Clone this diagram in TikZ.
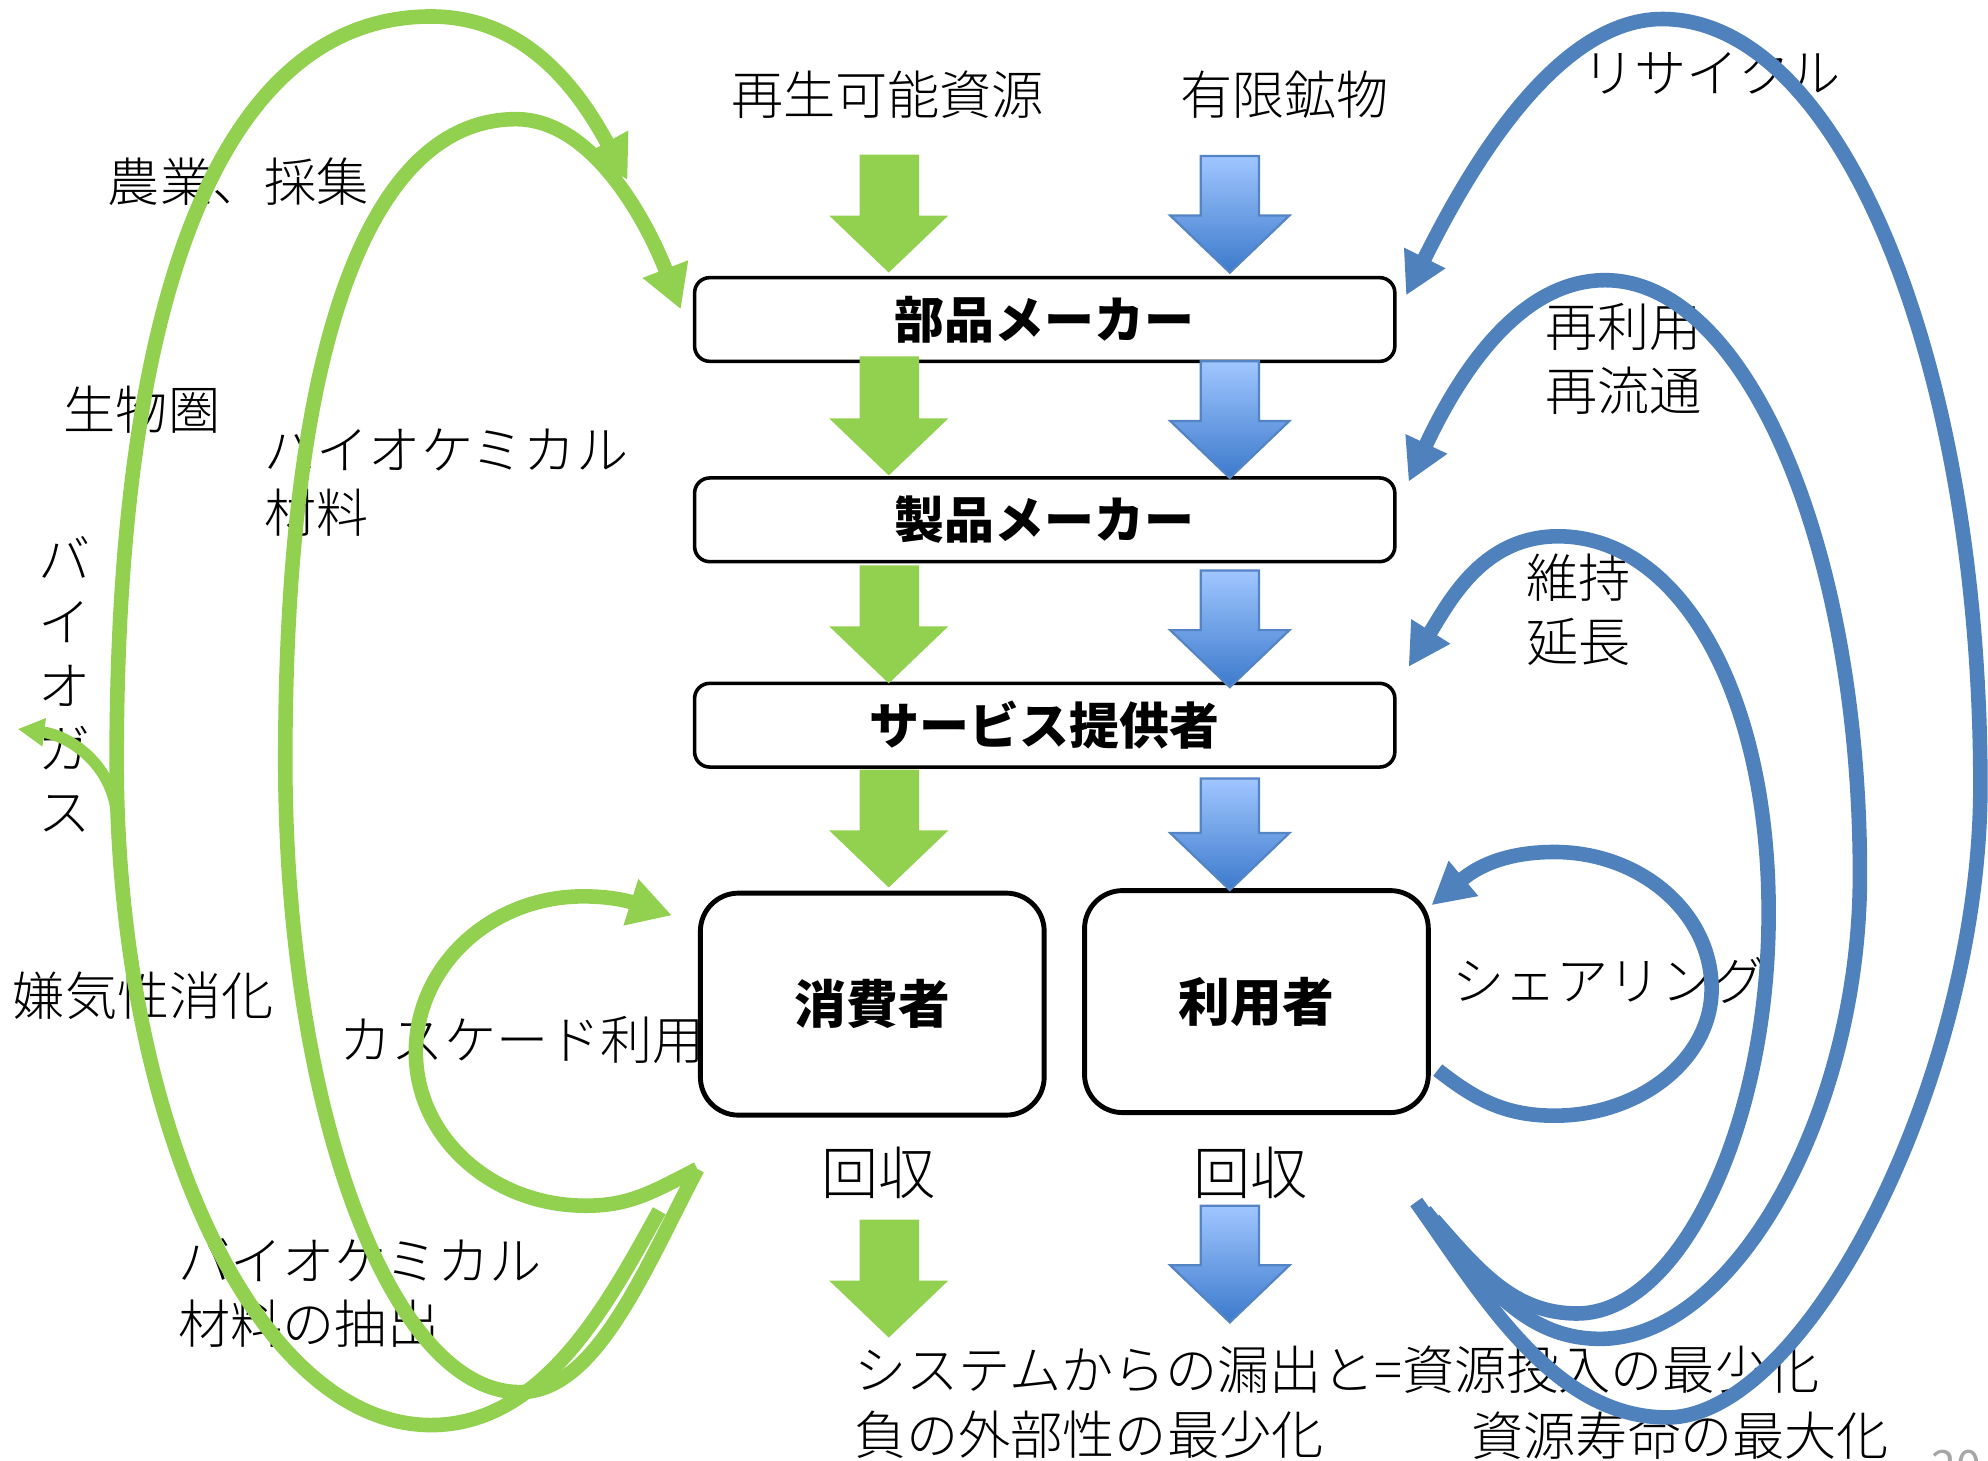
\documentclass[tikz,border=0pt]{standalone}
\usepackage{fontspec}
\setmainfont{Noto Sans CJK JP}
\IfFontExistsTF{Noto Sans CJK JP Light}
  {\newfontfamily\lightjp{Noto Sans CJK JP Light}}
  {\newfontfamily\lightjp{Noto Sans CJK JP}}
\usepackage{xcolor}
\usetikzlibrary{arrows.meta, calc, positioning}
\definecolor{leafgreen}{RGB}{146, 208, 80}
\definecolor{techblue}{RGB}{79, 129, 189}
\definecolor{skytop}{RGB}{160, 198, 255}
\definecolor{skybottom}{RGB}{60, 122, 204}
\definecolor{skyedge}{RGB}{84, 132, 196}

\begin{document}
\begin{tikzpicture}[x=0.01cm, y=-0.01cm]%{{{
        \useasboundingbox (0,0) rectangle (1568,1152);

        \tikzstyle{stage} = [draw, line width=0.8pt, rounded corners=0.12cm, minimum width=5.52cm, minimum height=0.66cm, inner sep=0pt, font=\fontsize{11.2}{13}\selectfont\bfseries];
        \tikzstyle{actor} = [draw, line width=1.1pt, rounded corners=0.3cm, minimum width=2.71cm, minimum height=1.75cm, inner sep=0pt, font=\fontsize{11.6}{13}\selectfont\bfseries];
        \tikzstyle{lbl} = [inner sep=0pt, font=\lightjp\fontsize{11.7}{14.2}\selectfont];
        \tikzstyle{bio} = [draw=leafgreen, line width=0.115cm, -{Triangle[length=0.34cm, width=0.36cm]}];
        \tikzstyle{tech} = [draw=techblue, line width=0.115cm, -{Triangle[length=0.33cm, width=0.34cm]}];

        % boxes
        \node [stage] (parts) at (824, 252) {部品メーカー};
        \node [stage] (maker) at (824, 410) {製品メーカー};
        \node [stage] (service) at (824, 572) {サービス提供者};
        \node [actor] (consumer) at (688, 792) {消費者};
        \node [actor] (user) at (991, 790) {利用者};

        % block arrows
        \foreach \top/\tip in {122/215, 281/375, 446/539, 607/700, 962/1055}{
            \fill [leafgreen] (678, \top) -- (725, \top) -- (725, \tip-45) -- (748, \tip-45)
                -- (701, \tip) -- (654, \tip-45) -- (678, \tip-45) -- cycle;
        }
        \foreach \top/\tip in {123/215, 285/377, 450/542, 614/702, 951/1043}{
            \shadedraw [top color=skytop, bottom color=skybottom, draw=skyedge, line width=0.5pt]
                (947, \top) -- (993, \top) -- (993, \tip-45) -- (1017, \tip-45)
                -- (970, \tip) -- (923, \tip-45) -- (947, \tip-45) -- cycle;
        }

        % labels
        \node [lbl] (renew) at (700, 75) {再生可能資源};
        \node [lbl] (mineral) at (1013, 75) {有限鉱物};
        \node [lbl] (recycle) at (1350, 57) {リサイクル};
        \node [lbl] (farm) at (188, 143) {農業、採集};
        \node [lbl] (biosphere) at (112, 323) {生物圏};
        \node [lbl, align=left, anchor=west] (biochem) at (208, 380) {バイオケミカル\\材料};
        \node [lbl, align=center] (biogas) at (51, 540) {バ\\イ\\オ\\ガ\\ス};
        \node [lbl] (digest) at (113, 785) {嫌気性消化};
        \node [lbl] (cascade) at (412, 820) {カスケード利用};
        \node [lbl, align=left, anchor=west] (extract) at (140, 1020) {バイオケミカル\\材料の抽出};
        \node [lbl, align=left, anchor=west] (reuse) at (1218, 283) {再利用\\再流通};
        \node [lbl, align=left, anchor=west] (maintain) at (1203, 481) {維持\\延長};
        \node [lbl] (sharing) at (1269, 773) {シェアリング};
        \node [lbl, font=\lightjp\fontsize{12.8}{14}\selectfont] (collectL) at (693, 925) {回収};
        \node [lbl, font=\lightjp\fontsize{12.8}{14}\selectfont] (collectR) at (986, 925) {回収};
        \node [lbl, anchor=west] (leak) at (673, 1080) {システムからの漏出と=資源投入の最少化};
        \node [lbl, anchor=west] (extern) at (673, 1132) {負の外部性の最少化};
        \node [lbl, anchor=west] (life) at (1160, 1132) {資源寿命の最大化};
        \node [inner sep=0pt, anchor=north, text=gray!70, font=\fontsize{10}{12}\selectfont] (pageno) at (1543, 1143) {20};

        % ends of the loops
        \coordinate (farmTail) at (520, 955);
        \coordinate (farmTip) at (495, 142);
        \coordinate (chemTail) at (550, 922);
        \coordinate (chemTip) at (537, 244);
        \coordinate (cascTip) at (530, 722);
        \coordinate (gasTail) at (92, 642);
        \coordinate (gasTip) at (14, 575);
        \coordinate (recTail) at (1117, 948);
        \coordinate (recTip) at (1109, 233);
        \coordinate (reuseTail) at (1124, 955);
        \coordinate (reuseTip) at (1111, 380);
        \coordinate (keepTail) at (1131, 962);
        \coordinate (keepTip) at (1111, 526);
        \coordinate (shareTail) at (1134, 844);
        \coordinate (shareTip) at (1129, 714);

        % biological loops
        \draw [bio] (farmTail) .. controls +(-39, 70) and +(90, 0) .. (340, 1124)
            .. controls +(-137, 0) and +(0, 289) .. (92, 600)
            .. controls +(0, -380) and +(-160, 0) .. (340, 13)
            .. controls +(80, 0) and +(-34, -62) .. (farmTip);
        \draw [bio] (chemTail) .. controls +(-42, 80) and +(60, 0) .. (410, 1098)
            .. controls +(-102, 0) and +(0, 275) .. (225, 600)
            .. controls +(0, -330) and +(-115, 0) .. (407, 94)
            .. controls +(60, 0) and +(-27, -70) .. (chemTip);
        \draw [bio] (chemTail) .. controls +(-35, 18) and +(35, 0) .. (462, 951)
            .. controls +(-74, 0) and +(0, 67) .. (328, 830)
            .. controls +(0, -68) and +(-73, 0) .. (460, 707)
            .. controls +(30, 0) and +(-25, -8) .. (cascTip);
        \draw [draw=leafgreen, line width=0.09cm, -{Triangle[length=0.21cm, width=0.21cm]}]
            (gasTail) .. controls +(-4, -40) and +(40, 5) .. (gasTip);

        % technical loops
        \draw [tech] (recTail) .. controls +(52, 73) and +(-90, 0) .. (1315, 1118)
            .. controls +(110, 0) and +(0, 230) .. (1562, 620)
            .. controls +(0, -334) and +(141, 0) .. (1311, 15)
            .. controls +(-90, 0) and +(40, -80) .. (recTip);
        \draw [tech] (reuseTail) .. controls +(45, 55) and +(-60, 0) .. (1262, 1056)
            .. controls +(105, 0) and +(0, 190) .. (1467, 690)
            .. controls +(0, -260) and +(111, 0) .. (1266, 221)
            .. controls +(-75, 0) and +(32, -68) .. (reuseTip);
        \draw [tech] (keepTail) .. controls +(35, 40) and +(-50, 0) .. (1244, 1036)
            .. controls +(80, 0) and +(0, 170) .. (1395, 720)
            .. controls +(0, -175) and +(95, 0) .. (1229, 423)
            .. controls +(-60, 0) and +(32, -51) .. (keepTip);
        \draw [tech] (shareTail) .. controls +(28, 22) and +(-40, 0) .. (1226, 880)
            .. controls +(68, 0) and +(0, 55) .. (1350, 780)
            .. controls +(0, -60) and +(68, 0) .. (1226, 672)
            .. controls +(-45, 0) and +(31, -26) .. (shareTip);
    \end{tikzpicture}
\end{document}
